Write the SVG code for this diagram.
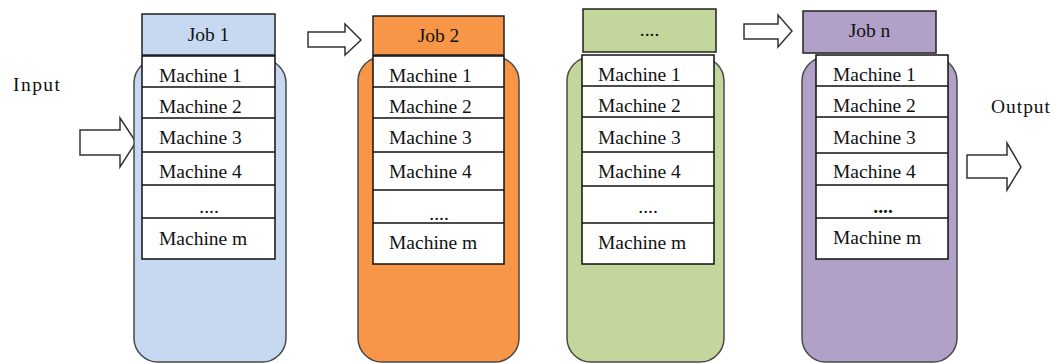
<svg xmlns="http://www.w3.org/2000/svg" width="1054" height="363" viewBox="0 0 1054 363">
<style>
text{font-family:"Liberation Serif","Times New Roman",serif;font-size:19.5px;fill:#111}
.c{stroke:#4a4a4a;stroke-width:1.5}
.t{fill:#fff;stroke:#111;stroke-width:1.5}
.j{stroke:#222;stroke-width:1.5}
.m{text-anchor:start}
.mid{text-anchor:middle}
.arrow{fill:#fff;stroke:#333;stroke-width:1.5;stroke-linejoin:miter}
</style>
<rect width="1054" height="363" fill="#fff"/>
<g id="connectors">
<polygon class="arrow" points="80,130 120,130 120,118 136,142 120,167 120,155 80,155"/>
<polygon class="arrow" points="308,32 345,32 345,24 361,40 345,55 345,47 308,47"/>
<polygon class="arrow" points="744,24 778,24 778,15 792,31 778,47 778,39 744,39"/>
<polygon class="arrow" points="967,155 1007,155 1007,143 1021,167 1007,190 1007,178 967,178"/>
</g>
<g id="input-label"><text x="13" y="91" textLength="47">Input</text></g>
<g id="output-label"><text x="991" y="113" textLength="59">Output</text></g>

<g id="job1">
<rect class="c" x="134" y="59" width="152" height="303" rx="24" fill="#C6D9F0"/>
<rect class="j" x="142" y="14" width="133" height="41" fill="#C6D9F0"/>
<text class="mid" x="208.5" y="41" font-size="20">Job 1</text>
<rect class="t" x="142" y="56" width="133" height="203"/>
<path d="M142,87H275M142,118H275M142,152H275M142,185H275M142,218H275" stroke="#111" stroke-width="1.5"/>
<text x="159" y="82">Machine 1</text>
<text x="159" y="113">Machine 2</text>
<text x="159" y="144">Machine 3</text>
<text x="159" y="178">Machine 4</text>
<text class="mid" x="209" y="213">....</text>
<text x="159" y="245">Machine m</text>
</g>

<g id="job2">
<rect class="c" x="358" y="57" width="161" height="305" rx="24" fill="#F79646"/>
<rect class="j" x="373" y="16" width="131" height="39" fill="#F79646"/>
<text class="mid" x="438.5" y="42" font-size="20">Job 2</text>
<rect class="t" x="373" y="56" width="131" height="208"/>
<path d="M373,87H504M373,118H504M373,152H504M373,190H504M373,223H504" stroke="#111" stroke-width="1.5"/>
<text x="389" y="82">Machine 1</text>
<text x="389" y="113">Machine 2</text>
<text x="389" y="144">Machine 3</text>
<text x="389" y="178">Machine 4</text>
<text class="mid" x="439" y="220">....</text>
<text x="389" y="249">Machine m</text>
</g>

<g id="job3">
<rect class="c" x="567" y="57" width="157" height="305" rx="24" fill="#C3D69B"/>
<rect class="j" x="583" y="9" width="133" height="43" fill="#C3D69B"/>
<text class="mid" x="649.5" y="36" font-size="20">....</text>
<rect class="t" x="582" y="55" width="132" height="209"/>
<path d="M582,86H714M582,117H714M582,152H714M582,186H714M582,223H714" stroke="#111" stroke-width="1.5"/>
<text x="598" y="81">Machine 1</text>
<text x="598" y="112">Machine 2</text>
<text x="598" y="144">Machine 3</text>
<text x="598" y="178">Machine 4</text>
<text class="mid" x="648" y="213">....</text>
<text x="598" y="249">Machine m</text>
</g>

<g id="jobn">
<rect class="c" x="802" y="57" width="155" height="305" rx="24" fill="#B1A0C7"/>
<rect class="j" x="803" y="11" width="133" height="42" fill="#B1A0C7"/>
<text class="mid" x="869.5" y="37" font-size="20">Job n</text>
<rect class="t" x="816" y="55" width="132" height="204"/>
<path d="M816,86H948M816,117H948M816,153H948M816,185H948M816,218H948" stroke="#111" stroke-width="1.5"/>
<text x="833" y="81">Machine 1</text>
<text x="833" y="112">Machine 2</text>
<text x="833" y="144">Machine 3</text>
<text x="833" y="178">Machine 4</text>
<text class="mid" x="883" y="213" font-weight="bold" font-size="22">....</text>
<text x="833" y="244">Machine m</text>
</g>
</svg>
